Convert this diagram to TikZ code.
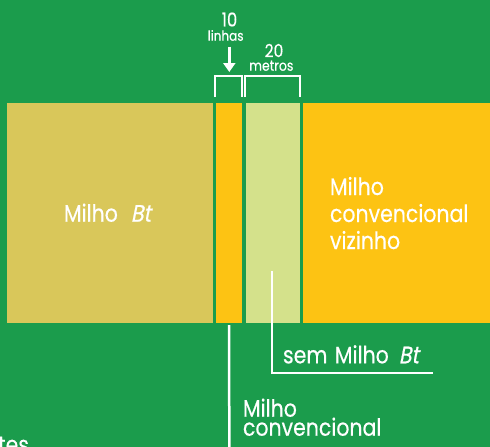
\documentclass[tikz,border=0pt]{standalone}
\usepackage{fontspec}
\setmainfont{Poppins}[FakeStretch=0.86,FakeBold=0.4]
\newfontfamily\btfont{Poppins}[FakeStretch=0.86,FakeSlant=0.2,FakeBold=0.6]
\usetikzlibrary{arrows.meta,calc}
\definecolor{bggreen}{HTML}{1B9C4C}
\definecolor{btcol}{HTML}{D9C75A}
\definecolor{orcol}{HTML}{FDC313}
\definecolor{lgcol}{HTML}{D4E18B}
\begin{document}
\begin{tikzpicture}[x=1pt,y=-1pt,
  field/.style={draw=none, inner sep=0pt, outer sep=0pt, anchor=north west, minimum height=220pt},
  lbl/.style={text=white, inner sep=0pt, outer sep=0pt},
  big/.style={font=\fontsize{23.8}{27}\selectfont},
  wline/.style={draw=white, line width=2.5pt},
  bline/.style={draw=white, line width=2pt, line join=miter},
]
\useasboundingbox (0,0) rectangle (490,447);
\fill[bggreen] (0,0) rectangle (490,447);
\clip (0,0) rectangle (490,447);
% fields
\node[field, fill=btcol, minimum width=206pt] (bt) at (7,103) {};
\node[field, fill=orcol, minimum width=26.3pt] (ystrip) at (216,103) {};
\node[field, fill=lgcol, minimum width=54.3pt] (lgstrip) at (245.7,103) {};
\node[field, fill=orcol, minimum width=190pt] (nb) at (302.7,103) {};
% field labels
\node[lbl, big, anchor=base west] (tbt) at (64,221.7) {Milho\hspace{13pt}{\btfont Bt}};
\node[lbl, big, anchor=base west, align=left] (tnb) at (330,249) {Milho\\convencional\\vizinho};
% top annotations
\node[lbl, font=\fontsize{19}{19}\selectfont] (t10) at (229.5,19.5) {10};
\node[lbl, font=\fontsize{14}{14}\selectfont, anchor=base] (tlin) at (225.7,40.7) {linhas};
\node[lbl, font=\fontsize{18}{18}\selectfont] (t20) at (274,50.5) {20};
\node[lbl, font=\fontsize{14.5}{14.5}\selectfont, anchor=base] (tmet) at (271.3,70.7) {metros};
\coordinate (arrs) at (229.3,46.7);
\coordinate (arre) at (229.3,72);
\draw[wline, -{Triangle[width=12pt,length=9pt]}] (arrs) -- (arre);
\draw[bline] ($(ystrip.north west)+(-1,-6)$) -- ($(ystrip.north west)+(-1,-27)$)
  -- ($(ystrip.north east)+(0,-27)$) -- ($(ystrip.north east)+(0,-6)$);
\draw[bline] ($(lgstrip.north west)+(-0.7,-6)$) -- ($(lgstrip.north west)+(-0.7,-27)$)
  -- ($(lgstrip.north east)+(0,-27)$) -- ($(lgstrip.north east)+(0,-6)$);
% bottom callouts
\coordinate (semstart) at (272,271);
\coordinate (semend) at (433,373);
\draw[wline] (semstart) |- (semend);
\node[lbl, big, anchor=base west] (tsem) at (283,363.3) {sem\hspace{2pt} Milho\hspace{10pt}{\btfont Bt}};
\coordinate (convend) at (229.3,450);
\draw[wline] ([yshift=-2pt]ystrip.south) -- (convend);
\node[lbl, big, anchor=base west, align=left, font=\fontsize{23.8}{19}\selectfont] (tconv) at (243,435.7) {Milho\\convencional};
\node[lbl, big, anchor=base east] (ttes) at (29,453) {tes};
\end{tikzpicture}
\end{document}
